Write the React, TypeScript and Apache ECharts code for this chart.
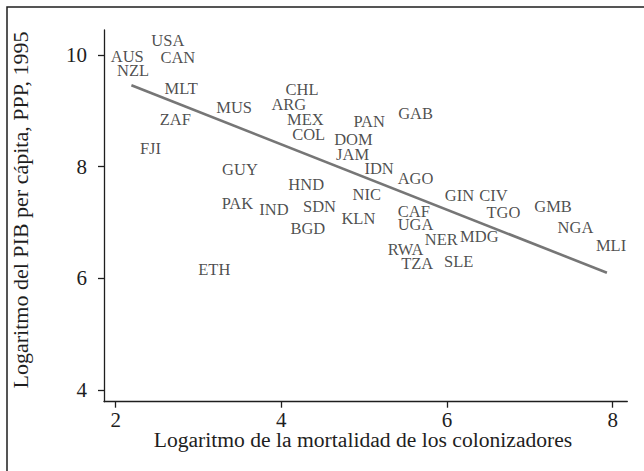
import React, { useEffect, useRef } from "react";
import * as echarts from "echarts";

const countries = [
  "USA", "AUS", "CAN", "NZL", "MLT", "MUS", "CHL", "ARG", "ZAF", "MEX",
  "COL", "FJI", "GUY", "HND", "PAN", "GAB", "DOM", "JAM", "IDN", "AGO",
  "NIC", "SDN", "KLN", "BGD", "CAF", "UGA", "GIN", "CIV", "TGO", "GMB",
  "NGA", "MLI", "MDG", "NER", "RWA", "TZA", "SLE", "PAK", "IND", "ETH",
];
const logMortality = [
  2.63, 2.14, 2.75, 2.21, 2.79, 3.43, 4.25, 4.09, 2.72, 4.29,
  4.33, 2.42, 3.5, 4.3, 5.06, 5.62, 4.87, 4.86, 5.18, 5.62,
  5.03, 4.46, 4.93, 4.32, 5.6, 5.62, 6.15, 6.56, 6.68, 7.28,
  7.55, 7.98, 6.39, 5.93, 5.5, 5.64, 6.14, 3.47, 3.91, 3.19,
];
const logGdp = [
  10.26, 9.97, 9.96, 9.72, 9.4, 9.06, 9.39, 9.11, 8.85, 8.85,
  8.58, 8.33, 7.95, 7.69, 8.81, 8.96, 8.48, 8.21, 7.97, 7.79,
  7.51, 7.29, 7.08, 6.9, 7.2, 6.97, 7.49, 7.49, 7.18, 7.28,
  6.91, 6.58, 6.75, 6.69, 6.51, 6.26, 6.3, 7.34, 7.24, 6.16,
];
const fitX = [2.19, 7.93];
const fitY = [9.46, 6.1];
const xTicks = [2, 4, 6, 8];
const yTicks = [4, 6, 8, 10];
const xTitle = "Logaritmo de la mortalidad de los colonizadores";
const yTitle = "Logaritmo del PIB per cápita, PPP, 1995";

const FONT = "'Liberation Serif', 'DejaVu Serif', serif";
const INK = "#1e1e1e";

export default function App() {
  const ref = useRef<HTMLDivElement>(null);
  useEffect(() => {
    if (!ref.current) return;
    const chart = echarts.init(ref.current, undefined, { renderer: "svg" });
    const axisCommon = {
      type: "value" as const,
      splitLine: { show: false },
      axisLine: { show: true, onZero: false, lineStyle: { color: INK, width: 1.3 } },
    };
    chart.setOption({
      animation: false,
      backgroundColor: "#ffffff",
      grid: { left: 104, top: 30, right: 16.7, bottom: 69.3, containLabel: false },
      xAxis: {
        ...axisCommon,
        min: 1.859,
        max: 8.176,
        axisTick: { show: true, length: 6, customValues: xTicks, lineStyle: { color: INK, width: 1.3 } },
        axisLabel: { customValues: xTicks, fontSize: 21, fontFamily: FONT, color: INK, margin: 8 },
      },
      yAxis: {
        ...axisCommon,
        min: 3.789,
        max: 10.45,
        axisTick: { show: true, length: 6, customValues: yTicks, lineStyle: { color: INK, width: 1.3 } },
        axisLabel: { customValues: yTicks, fontSize: 21, fontFamily: FONT, color: INK, margin: 17 },
      },
      series: [
        {
          type: "line",
          data: fitX.map((x, i) => [x, fitY[i]]),
          symbol: "none",
          lineStyle: { color: "#767676", width: 2.6 },
          z: 1,
        },
        {
          type: "scatter",
          data: countries.map((c, i) => ({ name: c, value: [logMortality[i], logGdp[i]] })),
          symbolSize: 1,
          itemStyle: { color: "rgba(0,0,0,0)" },
          label: {
            show: true,
            position: "inside",
            formatter: (p: any) => p.name,
            fontSize: 16.5,
            fontFamily: FONT,
            color: INK,
          },
          z: 2,
        },
      ],
      graphic: [
        {
          type: "rect",
          shape: { x: 7, y: 7, width: 800, height: 600 },
          style: { fill: "none", stroke: INK, lineWidth: 1.5 },
          silent: true,
        },
        {
          type: "text",
          x: 363,
          y: 440,
          style: {
            text: xTitle,
            fontSize: 21.6,
            fontFamily: FONT,
            fill: INK,
            align: "center",
            verticalAlign: "middle",
          },
        },
        {
          type: "text",
          x: 20,
          y: 210,
          rotation: Math.PI / 2,
          style: {
            text: yTitle,
            fontSize: 22,
            fontFamily: FONT,
            fill: INK,
            align: "center",
            verticalAlign: "middle",
          },
        },
      ],
    });
    return () => chart.dispose();
  }, []);
  return (
    <div
      ref={ref}
      style={{ position: "fixed", left: 0, top: 0, width: 644, height: 471, background: "#fff" }}
    />
  );
}
